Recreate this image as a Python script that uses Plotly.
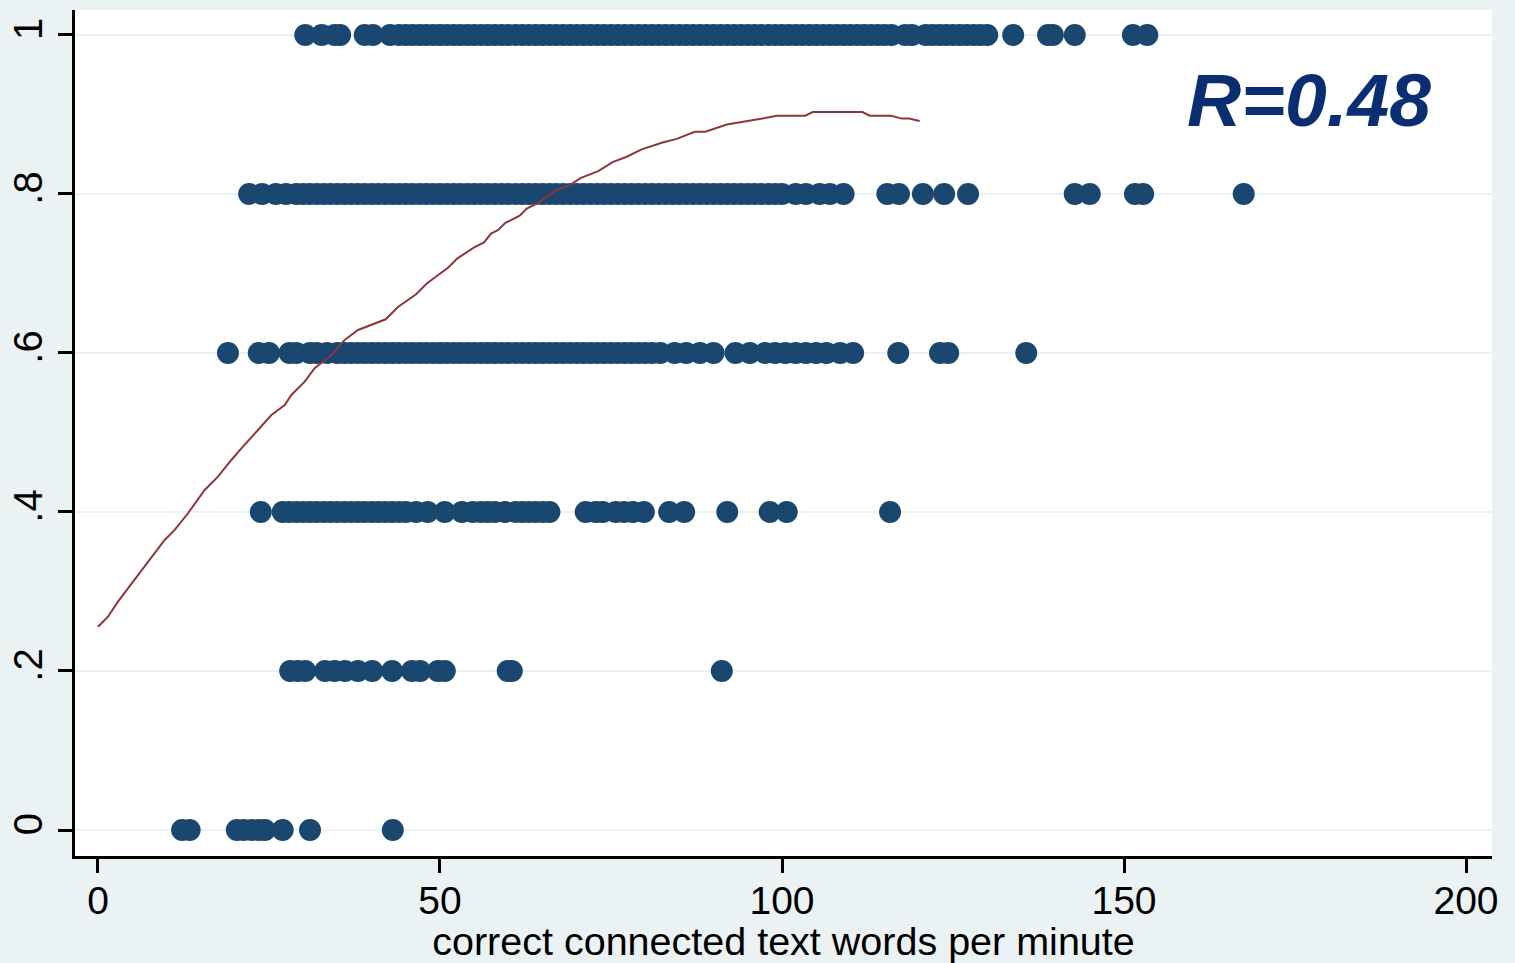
import plotly.graph_objects as go

# Reading fluency (correct connected text words per minute) vs. comprehension score
wpm_score_0 = [12.3, 13.4, 20.3, 21.3, 22.5, 23.5, 24.4, 27.0, 31.0, 43.1]
wpm_score_02 = [28.1, 29.2, 30.3, 33.2, 34.6, 36.1, 38.0, 40.1, 43.0, 45.9,
                47.1, 49.7, 50.7, 59.9, 60.5, 91.2]
wpm_score_04 = [23.8, 27, 28, 29, 30, 31, 32, 33, 34, 35, 36, 37, 38, 39, 40,
                41, 42, 43, 44, 45, 46.5, 48.2, 50.7, 53.2, 54.8, 56, 57, 58,
                59.5, 61, 62, 63, 64, 65, 66, 71.3, 72.8, 73.8, 75.7, 76.9,
                78.2, 79.8, 83.5, 85.7, 92, 98.2, 100.7, 115.8]
wpm_score_06 = [19, 23.5, 25, 28, 29, 31, 32, 33.5, 35, 36, 37, 38, 39, 40, 41,
                42, 43, 44, 45, 46, 47, 48, 49, 50, 51, 52, 53, 54, 55, 56, 57,
                58, 59, 60, 61, 62, 63, 64, 65, 66, 67, 68, 69, 70, 71, 72, 73,
                74, 75, 76, 77, 78, 79, 80, 81, 82.2, 84.3, 86, 88, 90, 93.2,
                95.3, 97.5, 99, 100.5, 102, 103.5, 105, 106.5, 108.5, 110.4,
                117, 123.1, 124.3, 135.7]
wpm_score_08 = [22.1, 24, 26, 27.5, 29, 30, 31, 32, 33, 34, 35, 36, 37, 38, 39,
                40, 41, 42, 43, 44, 45, 46, 47, 48, 49, 50, 51, 52, 53, 54, 55,
                56, 57, 58, 59, 60, 61, 62, 63, 64, 65, 66, 67, 68, 69, 70, 71,
                72, 73, 74, 75, 76, 77, 78, 79, 80, 81, 82, 83, 84, 85, 86, 87,
                88, 89, 90, 91, 92, 93, 94, 95, 96, 97, 98, 99, 100, 102, 103.5,
                105.5, 107, 109, 115.4, 117.1, 120.6, 123.7, 127.2, 142.8, 145,
                151.6, 152.8, 167.5]
wpm_score_1 = [30.3, 32.7, 34.6, 35.4, 39, 40.2, 42.7, 44, 45, 46, 47, 48, 49,
               50, 51, 52, 53, 54, 55, 56, 57, 58, 59, 60, 61, 62, 63, 64, 65,
               66, 67, 68, 69, 70, 71, 72, 73, 74, 75, 76, 77, 78, 79, 80, 81,
               82, 83, 84, 85, 86, 87, 88, 89, 90, 91, 92, 93, 94, 95, 96, 97,
               98, 99, 100, 101, 102, 103, 104, 105, 106, 107, 108, 109, 110,
               111, 112, 113, 114, 115, 116, 118, 119, 121, 122, 123, 124, 125,
               126, 127, 128, 129, 130, 133.8, 138.9, 139.6, 142.8, 151.3, 153.4]

score_levels = [0, 0.2, 0.4, 0.6, 0.8, 1]
score_groups = [wpm_score_0, wpm_score_02, wpm_score_04,
                wpm_score_06, wpm_score_08, wpm_score_1]

# Lowess smooth of score on wpm
lowess_x = [0, 1.46, 2.92, 4.39, 6.83, 9.75, 11.21, 13.16, 15.60, 17.54,
            19.50, 20.96, 23.39, 25.35, 27.30, 28.27, 30.22, 31.68, 34.12,
            36.07, 38.02, 42.06, 43.90, 46.51, 48.07, 51.21, 52.51, 54.87,
            56.43, 57.47, 58.52, 59.56, 61.65, 62.69, 64.27, 66.87, 68.96,
            70.53, 73.14, 75.23, 77.31, 79.40, 82.54, 84.62, 87.24, 88.80,
            91.93, 95.07, 97.16, 99.24, 103.42, 104.47, 111.78, 112.82,
            115.95, 117.54, 118.57, 120.13]
lowess_y = [0.2557, 0.2683, 0.2872, 0.3040, 0.3312, 0.3648, 0.3774, 0.3984,
            0.4277, 0.4444, 0.4654, 0.4801, 0.5031, 0.5220, 0.5346, 0.5472,
            0.5639, 0.5808, 0.5975, 0.6164, 0.6289, 0.6424, 0.6581, 0.6738,
            0.6873, 0.7075, 0.7187, 0.7322, 0.7390, 0.7502, 0.7547, 0.7637,
            0.7727, 0.7816, 0.7884, 0.8042, 0.8108, 0.8199, 0.8288, 0.8401,
            0.8468, 0.8558, 0.8648, 0.8693, 0.8782, 0.8782, 0.8873, 0.8917,
            0.8948, 0.8985, 0.8985, 0.9030, 0.9030, 0.8985, 0.8985, 0.8948,
            0.8948, 0.8917]

y_ticks = [0, 0.2, 0.4, 0.6, 0.8, 1]
y_ticktext = ["0", ".2", ".4", ".6", ".8", "1"]
x_ticks = [0, 50, 100, 150, 200]
x_ticktext = ["0", "50", "100", "150", "200"]

xs, ys = [], []
for level, group in zip(score_levels, score_groups):
    xs.extend(group)
    ys.extend([level] * len(group))

FONT = "Arial, Liberation Sans, sans-serif"

fig = go.Figure()
fig.add_trace(go.Scatter(
    x=xs, y=ys, mode="markers",
    marker=dict(size=22, color="#1A476F", line=dict(width=0)),
    showlegend=False, hoverinfo="x+y",
))
fig.add_trace(go.Scatter(
    x=lowess_x, y=lowess_y, mode="lines",
    line=dict(color="#90353B", width=2),
    showlegend=False,
))

fig.add_annotation(
    x=177.1, y=0.918, xref="x", yref="y",
    text="<b><i>R=0.48</i></b>", showarrow=False,
    font=dict(family=FONT, size=75, color="#0B2D72"),
)

fig.update_layout(
    width=1515, height=963,
    margin=dict(l=75, r=23, t=10, b=107),
    paper_bgcolor="#EAF2F3",
    plot_bgcolor="#FFFFFF",
    font=dict(family=FONT, size=40, color="#000000"),
    xaxis=dict(
        range=[-3.36, 203.8], tickvals=x_ticks, ticktext=x_ticktext,
        automargin=False,
        showgrid=False, zeroline=False,
        showline=True, linecolor="#000000", linewidth=2.5,
        ticks="outside", ticklen=14, tickwidth=2.5, tickcolor="#000000",
        tickfont=dict(size=39), ticklabelstandoff=-6,
        title=dict(text="correct connected text words per minute",
                   font=dict(size=39.5), standoff=3),
    ),
    yaxis=dict(
        range=[-0.0327, 1.0314], tickvals=y_ticks, ticktext=y_ticktext,
        tickangle=-90, automargin=False,
        showgrid=True, gridcolor="#EAF2F3", gridwidth=2,
        zeroline=False,
        showline=True, linecolor="#000000", linewidth=2.5,
        ticks="outside", ticklen=14, tickwidth=2.5, tickcolor="#000000",
        tickfont=dict(size=40),
    ),
)

fig.write_html("out.html")
